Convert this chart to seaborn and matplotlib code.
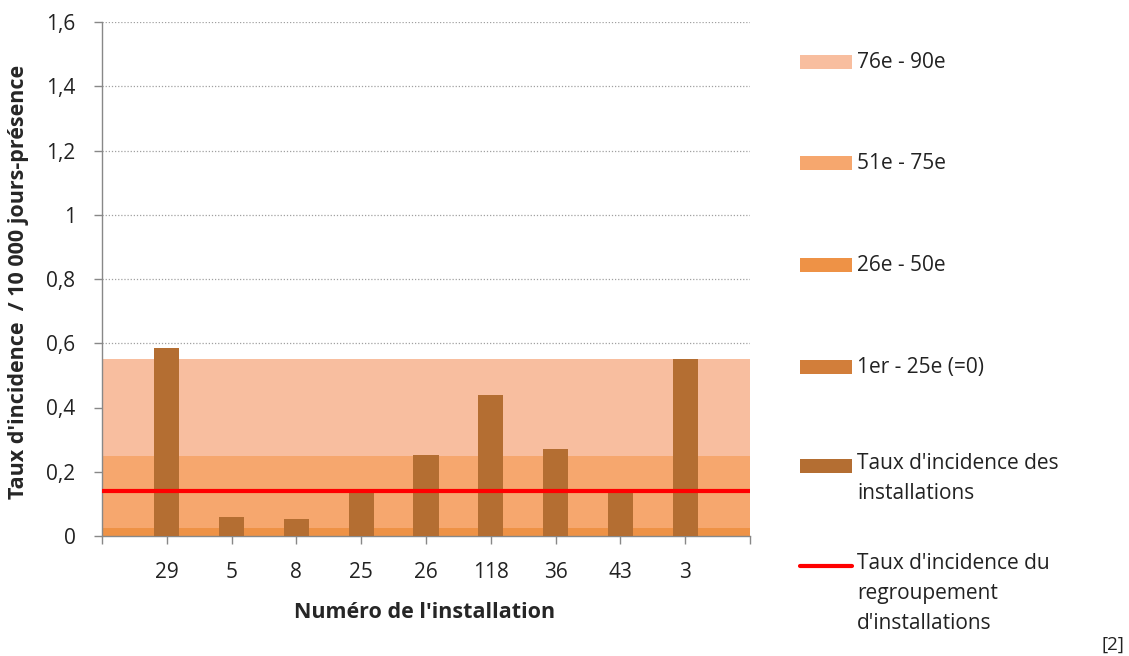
import pandas as pd
import matplotlib
matplotlib.use("Agg")
import matplotlib.pyplot as plt
import seaborn as sns
from matplotlib.patches import Rectangle
from matplotlib.lines import Line2D

# data
installations = ["29", "5", "8", "25", "26", "118", "36", "43", "3"]
rates = [0.585, 0.058, 0.053, 0.14, 0.252, 0.44, 0.271, 0.14, 0.552]
group_rate = 0.14
# percentile bands (cumulative upper bounds)
band_labels = ["76e - 90e", "51e - 75e", "26e - 50e", "1er - 25e (=0)"]
band_tops = [0.552, 0.248, 0.024, 0.0]
band_colors = ["#F8BE9F", "#F6A76E", "#EE9246", "#D27E3A"]
bar_color = "#B46E32"
y_ticks = [0, 0.2, 0.4, 0.6, 0.8, 1.0, 1.2, 1.4, 1.6]

sns.set_style("white")
plt.rcParams["font.family"] = ["Open Sans", "DejaVu Sans"]

W, H = 1129, 656
FS = 15
fig = plt.figure(figsize=(W / 100, H / 100), dpi=100)
ax = fig.add_axes([102 / W, 1 - 536 / H, (750 - 102) / W, (536 - 22) / H])

# axis "on tick marks": empty slot at each end
order = [" "] + installations + ["  "]
df = pd.DataFrame({"installation": installations, "rate": rates})

# stacked background bands
prev = 0.0
for top, col in zip(band_tops[::-1], band_colors[::-1]):
    if top > prev:
        ax.axhspan(prev, top, color=col, zorder=1, lw=0)
        prev = top

sns.barplot(data=df, x="installation", y="rate", order=order, color=bar_color,
            width=0.39, saturation=1, linewidth=0, ax=ax, zorder=3)
ax.axhline(group_rate, color="#FF0000", lw=3, zorder=4)

ax.set_xlim(0, len(order) - 1)
ax.set_ylim(0, 1.6)
ax.set_yticks(y_ticks)
ax.set_yticklabels([f"{v:g}".replace(".", ",") for v in y_ticks], fontsize=FS, color="#222222")
ax.yaxis.grid(True, linestyle=(0, (1, 1.5)), color="#A0A0A0", lw=0.9, zorder=0)
ax.set_axisbelow(True)

ax.set_xticks(range(len(order)))
ax.set_xticklabels(order, fontsize=FS, color="#222222")
ax.tick_params(axis="x", length=6, color="#888888", width=1, bottom=True, pad=13)
ax.tick_params(axis="y", length=6, color="#888888", width=1, left=True, pad=13)

for s in ["top", "right"]:
    ax.spines[s].set_visible(False)
for s in ["left", "bottom"]:
    ax.spines[s].set_color("#888888")
    ax.spines[s].set_linewidth(1)

ax.set_xlabel("Numéro de l'installation", fontsize=15.5, fontweight="bold")
ax.set_ylabel("Taux d'incidence  / 10 000 jours-présence", fontsize=15.5,
              fontweight="bold")
ax.xaxis.set_label_coords(0.498, -(602 - 536) / 514)
ax.yaxis.set_label_coords(-(102 - 29) / 648, 0.494)

# legend drawn on the right like the original
def fx(px):
    return px / W

def fy(py):
    return 1 - py / H

leg_rows = [62, 163, 265, 367]
for row, lab, col in zip(leg_rows, band_labels, band_colors):
    fig.add_artist(Rectangle((fx(800), fy(row + 7)), fx(852) - fx(800), 14 / H,
                             transform=fig.transFigure, color=col, lw=0))
    fig.text(fx(857), fy(row), lab, fontsize=FS, va="center", ha="left", color="#222222")

fig.add_artist(Rectangle((fx(800), fy(473)), fx(852) - fx(800), 14 / H,
                         transform=fig.transFigure, color=bar_color, lw=0))
fig.text(fx(857), fy(453), "Taux d'incidence des\ninstallations", fontsize=FS,
         va="top", ha="left", color="#222222", linespacing=1.55)
fig.add_artist(Line2D([fx(800), fx(852)], [fy(566), fy(566)],
                      transform=fig.transFigure, color="#FF0000", lw=3))
fig.text(fx(857), fy(553), "Taux d'incidence du\nregroupement\nd'installations",
         fontsize=FS, va="top", ha="left", color="#222222", linespacing=1.55)

fig.text(fx(1113), fy(645), "[2]", fontsize=13.5, ha="center", va="center", color="#222222")

fig.savefig("out.png", dpi=100)
